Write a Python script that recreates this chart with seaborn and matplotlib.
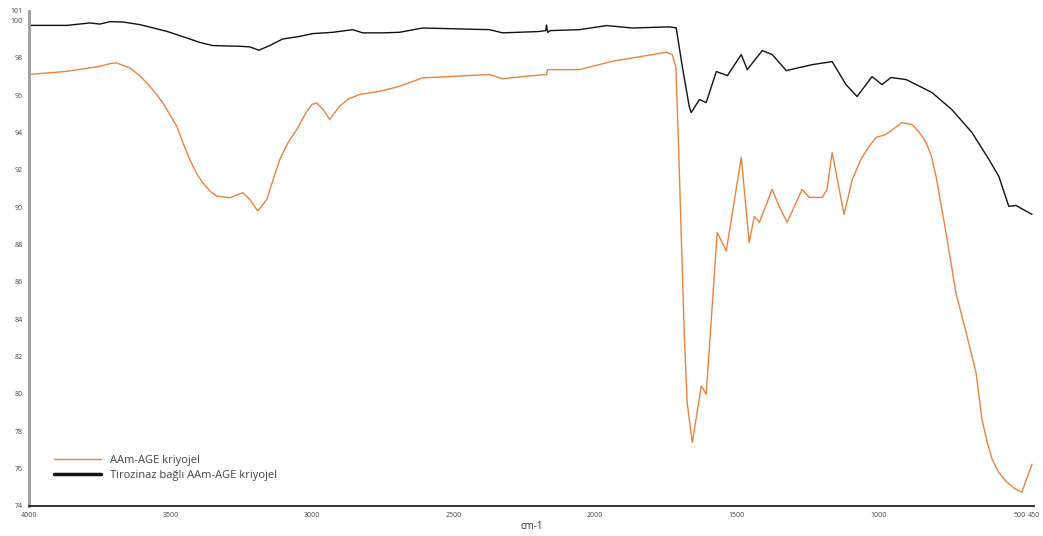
import matplotlib
matplotlib.use("Agg")
import matplotlib.pyplot as plt
import seaborn as sns
import pandas as pd
from matplotlib.lines import Line2D

# FTIR spectra: wavenumber (cm-1) and transmittance (%)
wn_plain = [4000, 3866, 3749, 3710, 3690, 3644, 3610, 3584, 3555, 3527, 3478, 3455, 3432,
            3410, 3386, 3360, 3337, 3291, 3245, 3220, 3192, 3160, 3135, 3114, 3085, 3054,
            3019, 3000, 2984, 2960, 2938, 2903, 2870, 2832, 2761, 2691, 2610, 2373, 2327,
            2250, 2172, 2168, 2056, 1939, 1749, 1728, 1715, 1705, 1695, 1685, 1675, 1657,
            1625, 1608, 1569, 1537, 1484, 1456, 1438, 1420, 1375, 1350, 1322, 1269, 1244,
            1198, 1181, 1163, 1121, 1092, 1060, 1032, 1008, 973, 916, 880, 855, 831, 812,
            796, 761, 726, 690, 655, 634, 615, 598, 575, 549, 520, 493, 457]
t_plain = [97.10, 97.27, 97.54, 97.70, 97.72, 97.45, 97.05, 96.65, 96.15, 95.58, 94.33, 93.40,
           92.55, 91.85, 91.30, 90.85, 90.59, 90.50, 90.77, 90.41, 89.79, 90.41, 91.60, 92.55,
           93.45, 94.16, 95.13, 95.50, 95.58, 95.20, 94.69, 95.40, 95.80, 96.03, 96.20, 96.47,
           96.92, 97.10, 96.87, 97.00, 97.10, 97.36, 97.36, 97.81, 98.29, 98.17, 97.50, 93.00,
           88.00, 83.00, 79.50, 77.40, 80.43, 79.98, 88.64, 87.65, 92.66, 88.11, 89.50, 89.18,
           90.95, 90.04, 89.18, 90.95, 90.52, 90.52, 90.95, 92.93, 89.61, 91.48, 92.60, 93.25,
           93.73, 93.89, 94.53, 94.42, 94.00, 93.46, 92.70, 91.64, 88.64, 85.43, 83.30, 81.16,
           78.65, 77.40, 76.51, 75.80, 75.33, 74.95, 74.74, 76.24]

wn_enzyme = [4000, 3866, 3785, 3749, 3714, 3668, 3608, 3513, 3443, 3397, 3351, 3255,
             3220, 3188, 3150, 3104, 3044, 2998, 2927, 2857, 2821, 2751, 2691, 2610,
             2373, 2327, 2200, 2175, 2172, 2168, 2160, 2056, 1960, 1869, 1738, 1714,
             1692, 1668, 1661, 1632, 1608, 1572, 1533, 1484, 1463, 1410, 1375, 1325,
             1279, 1233, 1163, 1114, 1075, 1022, 987, 955, 902, 845, 810, 740,
             669, 609, 574, 539, 514, 457]
t_enzyme = [99.73, 99.73, 99.86, 99.80, 99.93, 99.91, 99.77, 99.41, 99.06, 98.82, 98.65, 98.61,
            98.58, 98.40, 98.65, 99.00, 99.14, 99.29, 99.36, 99.50, 99.33, 99.33, 99.36, 99.59,
            99.50, 99.33, 99.40, 99.45, 99.75, 99.35, 99.45, 99.50, 99.72, 99.59, 99.65, 99.60,
            97.50, 95.40, 95.06, 95.76, 95.60, 97.26, 97.04, 98.17, 97.36, 98.38, 98.17, 97.31,
            97.47, 97.63, 97.79, 96.56, 95.92, 96.99, 96.56, 96.94, 96.83, 96.40, 96.13, 95.22,
            93.99, 92.55, 91.64, 90.04, 90.09, 89.61]

series_names = ["AAm-AGE kriyojel", "Tirozinaz bağlı AAm-AGE kriyojel"]
series_colors = ["#E8843F", "#111111"]

x_ticks = [4000, 3500, 3000, 2500, 2000, 1500, 1000, 500, 450]
x_tick_labels = ["4000", "3500", "3000", "2500", "2000", "1500", "1000", "500", "450"]
y_ticks = [74, 76, 78, 80, 82, 84, 86, 88, 90, 92, 94, 96, 98, 100, 100.5]
y_tick_labels = ["74", "76", "78", "80", "82", "84", "86", "88", "90", "92", "94", "96", "98", "100", "101"]

df = pd.concat([
    pd.DataFrame({"wn": wn_plain, "T": t_plain, "sample": series_names[0]}),
    pd.DataFrame({"wn": wn_enzyme, "T": t_enzyme, "sample": series_names[1]}),
], ignore_index=True)

sns.set_theme(style="white")
plt.rcParams["font.family"] = ["Open Sans", "DejaVu Sans"]

fig = plt.figure(figsize=(10.43, 5.36), dpi=100)
ax = fig.add_axes([29 / 1043, 30 / 536, 1005 / 1043, 495 / 536])

sns.lineplot(data=df, x="wn", y="T", hue="sample", palette=series_colors,
             hue_order=series_names, sort=False, estimator=None,
             linewidth=1.0, ax=ax, legend=False)

ax.set_xlim(4000, 450)
ax.set_ylim(74, 100.5)
ax.set_xticks(x_ticks)
ax.set_xticklabels(x_tick_labels)
ax.set_yticks(y_ticks)
ax.set_yticklabels(y_tick_labels)
ax.tick_params(axis="both", labelsize=5, colors="#444444", length=3, width=0.6,
               direction="out", pad=1.5)
ax.set_xlabel("cm-1", fontsize=7, color="#333333", labelpad=1)
ax.set_ylabel("")

for side in ("top", "right"):
    ax.spines[side].set_visible(False)
ax.spines["left"].set_color("#9a9a9a")
ax.spines["left"].set_linewidth(2.0)
ax.spines["bottom"].set_color("#222222")
ax.spines["bottom"].set_linewidth(1.3)

handles = [Line2D([], [], color=series_colors[0], linewidth=1.0),
           Line2D([], [], color=series_colors[1], linewidth=2.5)]
leg = ax.legend(handles, series_names, loc="lower left", bbox_to_anchor=(0.015, 0.03),
                frameon=False, fontsize=8, handlelength=4.2, handletextpad=0.8,
                labelspacing=0.35)
for t in leg.get_texts():
    t.set_color("#444444")

fig.savefig("out.png", dpi=100)
